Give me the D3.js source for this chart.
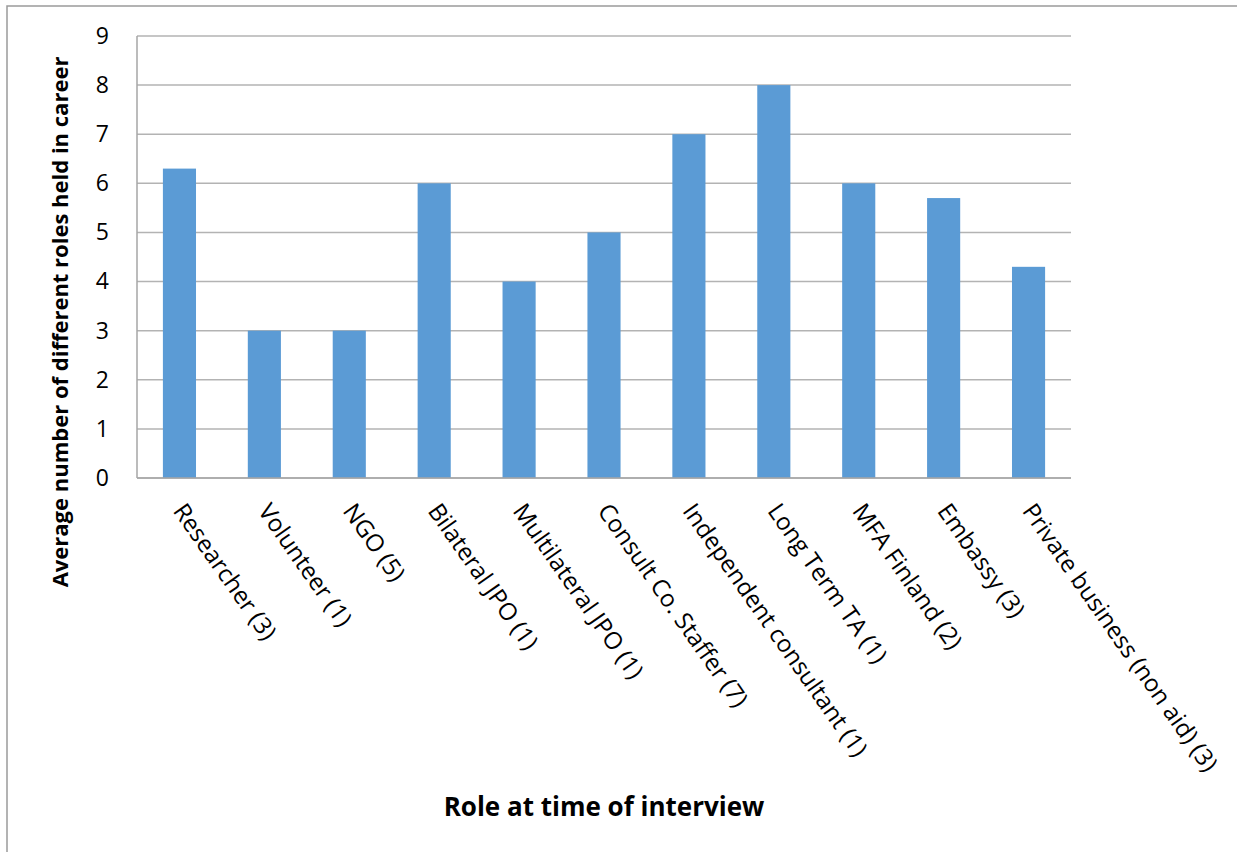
<!DOCTYPE html>
<html>
<head>
<meta charset="utf-8">
<script src="https://cdn.jsdelivr.net/npm/d3@7"></script>
<style>
  html, body { margin: 0; padding: 0; background: #fff; }
  svg { display: block; }
  text { font-family: "Open Sans", "Noto Sans", sans-serif; fill: #000; }
</style>
</head>
<body>
<svg id="chart" width="1237" height="852"></svg>
<script>
const categories = [
  "Researcher (3)", "Volunteer (1)", "NGO (5)", "Bilateral JPO (1)",
  "Multilateral JPO (1)", "Consult Co. Staffer (7)", "Independent consultant (1)",
  "Long Term TA (1)", "MFA Finland (2)", "Embassy (3)", "Private business (non aid) (3)"
];
const values = [6.3, 3, 3, 6, 4, 5, 7, 8, 6, 5.7, 4.3];
const yTicks = [0, 1, 2, 3, 4, 5, 6, 7, 8, 9];
const yTitle = "Average number of different roles held in career";
const xTitle = "Role at time of interview";

const svg = d3.select("#chart");
const plot = { left: 137, right: 1071, top: 36, bottom: 478 };

// outer frame (top and left edges visible)
svg.append("rect")
  .attr("x", 7).attr("y", 6)
  .attr("width", 1300).attr("height", 900)
  .attr("fill", "none").attr("stroke", "#9a9a9a").attr("stroke-width", 1.5);

const x = d3.scaleBand().domain(categories)
  .range([plot.left, plot.right]).paddingInner(0.61).paddingOuter(0.305);
const y = d3.scaleLinear().domain([0, 9]).range([plot.bottom, plot.top]);

// gridlines
svg.append("g").selectAll("line").data(yTicks).join("line")
  .attr("x1", plot.left).attr("x2", plot.right)
  .attr("y1", d => y(d)).attr("y2", d => y(d))
  .attr("stroke", "#b3b3b3").attr("stroke-width", 1.5);

// bars
svg.append("g").selectAll("rect").data(values).join("rect")
  .attr("x", (d, i) => x(categories[i]))
  .attr("width", x.bandwidth())
  .attr("y", d => y(d))
  .attr("height", d => y(0) - y(d))
  .attr("fill", "#5b9bd5");

// axes lines
svg.append("line")
  .attr("x1", plot.left).attr("x2", plot.left)
  .attr("y1", plot.top).attr("y2", plot.bottom)
  .attr("stroke", "#a6a6a6").attr("stroke-width", 1.5);
svg.append("line")
  .attr("x1", plot.left).attr("x2", plot.right)
  .attr("y1", plot.bottom).attr("y2", plot.bottom)
  .attr("stroke", "#a6a6a6").attr("stroke-width", 1.5);

// y tick labels
const yAxis = d3.axisLeft(y).tickValues(yTicks).tickSize(0).tickPadding(0);
const gy = svg.append("g").attr("transform", `translate(${plot.left - 28},0)`).call(yAxis);
gy.select(".domain").remove();
gy.selectAll("text").style("font-size", "23px").style("font-family", '"Open Sans", sans-serif').attr("fill", "#000");

// x labels rotated
const xb = svg.append("g");
xb.selectAll("text").data(categories).join("text")
  .attr("transform", d => `translate(${x(d) + x.bandwidth() / 2 + 7},501) rotate(55)`)
  .attr("dy", "0.72em")
  .attr("text-anchor", "start")
  .style("font-size", "24px")
  .text(d => d);

// axis titles
svg.append("text")
  .attr("transform", `translate(68,322) rotate(-90)`)
  .attr("text-anchor", "middle")
  .style("font-size", "22px").style("font-weight", "bold")
  .text(yTitle);

svg.append("text")
  .attr("x", (plot.left + plot.right) / 2).attr("y", 816)
  .attr("text-anchor", "middle")
  .style("font-size", "26px").style("font-weight", "bold")
  .text(xTitle);
</script>
</body>
</html>
